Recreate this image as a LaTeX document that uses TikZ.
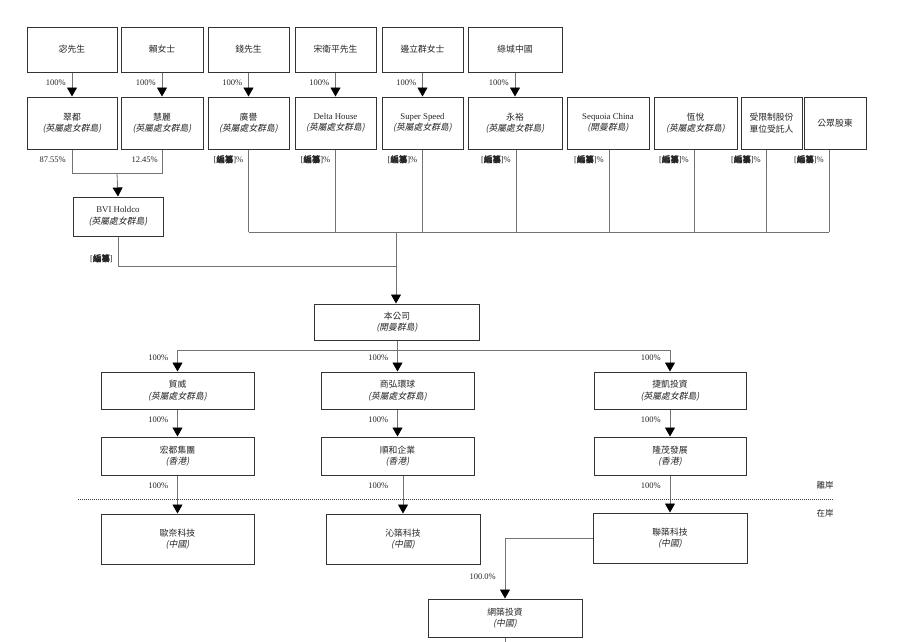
\documentclass[tikz,border=0pt]{standalone}
\usepackage{fontspec}
\setmainfont{Liberation Serif}
\newfontfamily\cjk{Noto Sans CJK TC}
\newfontfamily\cjkit[FakeSlant=0.2]{Noto Sans CJK TC}
\newfontfamily\cjkbf[FakeBold=2.5]{Noto Sans CJK TC}
\usetikzlibrary{arrows.meta, positioning, calc}
\newcommand{\juris}[1]{{\cjkit (#1)}}
\newcommand{\redacted}{[{\cjkbf 編纂}]}
\tikzset{
    entity/.style={draw=black!80, line width=1pt, fill=white, align=center, inner sep=1pt,
        text=black!85, font=\fontsize{8.8}{11.5}\selectfont},
    link/.style={draw=black!55, line width=0.8pt},
    own/.style={link, -{Triangle[width=10pt,length=9pt,black]}},
    pct/.style={anchor=east, inner sep=0pt, text=black!85, font=\fontsize{8.5}{10}\selectfont},
    shore/.style={draw=black!75, line width=0.9pt, dash pattern=on 1pt off 1pt}
}

\begin{document}
\begin{tikzpicture}[x=1pt, y=-1pt]
    \useasboundingbox (0,0) rectangle (911,641);

    % Shareholders
    \foreach \name/\cx/\w/\txt in {mi/72/90/宓先生, lai/162/82/賴女士, qian/248.5/81/錢先生,
        song/335.5/81/宋衛平先生, bian/422.5/81/邊立群女士, lvcheng/515/94/綠城中國}{
        \node[entity, minimum width=\w pt, minimum height=45pt] (\name) at (\cx,49.5) {\cjk\txt};
    }

    % Holding vehicles
    \node[entity, minimum width=90pt, minimum height=52pt] (cuidu) at (72,123) {{\cjk 翠都}\\\juris{英屬處女群島}};
    \node[entity, minimum width=82pt, minimum height=52pt] (huili) at (162,123) {{\cjk 慧麗}\\\juris{英屬處女群島}};
    \node[entity, minimum width=81pt, minimum height=52pt] (guangyu) at (248.5,123) {{\cjk 廣譽}\\\juris{英屬處女群島}};
    \node[entity, minimum width=81pt, minimum height=52pt] (delta) at (335.5,123) {Delta House\\\juris{英屬處女群島}};
    \node[entity, minimum width=81pt, minimum height=52pt] (super) at (422.5,123) {Super Speed\\\juris{英屬處女群島}};
    \node[entity, minimum width=94pt, minimum height=52pt] (yongyu) at (515,123) {{\cjk 永裕}\\\juris{英屬處女群島}};
    \node[entity, minimum width=82pt, minimum height=52pt] (sequoia) at (608,123) {Sequoia China\\\juris{開曼群島}};
    \node[entity, minimum width=83pt, minimum height=52pt] (hengyue) at (695.5,123) {{\cjk 恆悅}\\\juris{英屬處女群島}};
    \node[entity, minimum width=61pt, minimum height=52pt] (rsu) at (771.5,123) {\cjk 受限制股份\\\cjk 單位受託人};
    \node[entity, minimum width=62pt, minimum height=52pt] (public) at (835,123) {\cjk 公眾股東};

    \foreach \a/\b in {mi/cuidu, lai/huili, qian/guangyu, song/delta, bian/super, lvcheng/yongyu}{
        \draw[own] (\a) -- (\b);
        \path (\a.south) ++(-6,10) node[pct] (p\a) {100\%};
    }

    % BVI Holdco
    \node[entity, minimum width=90pt, minimum height=39pt] (bvi) at (118,216.5) {BVI Holdco\\\juris{英屬處女群島}};
    \coordinate (merge) at (117,173);
    \draw[link] (cuidu.south) |- (huili.south |- merge) -- (huili.south);
    \draw[own] (merge) -- (bvi.north);
    \path (cuidu.south) ++(-6,10) node[pct] (pcuidu) {87.55\%};
    \path (huili.south) ++(-4,10) node[pct] (phuili) {12.45\%};

    % Listing bus
    \coordinate (join) at (396,232);
    \coordinate (bvijoin) at (396,266);
    \foreach \n/\s in {guangyu/0, delta/0, super/0, yongyu/1, sequoia/1, hengyue/-1.5, rsu/-5.5, public/-6}{
        \coordinate (d\n) at ([xshift=\s]\n.south);
        \draw[link] (d\n) -- (d\n |- join);
        \path (d\n) ++(-5,10) node[pct] (r\n) {\redacted\%};
    }
    \draw[link] (dguangyu |- join) -- (dpublic |- join);
    \draw[link] (bvi.south) |- (bvijoin);
    \path (bvi.south) ++(-5,22) node[pct] (rbvi) {\redacted};

    % Company
    \node[entity, minimum width=165pt, minimum height=36pt] (company) at (397,322) {{\cjk 本公司}\\\juris{開曼群島}};
    \draw[own] (join) -- (join |- company.north);

    % Subsidiaries
    \node[entity, minimum width=153pt, minimum height=37pt] (maowei) at (177.5,390.5) {{\cjk 貿威}\\\juris{英屬處女群島}};
    \node[entity, minimum width=153pt, minimum height=37pt] (shanghong) at (397.5,390.5) {{\cjk 商弘環球}\\\juris{英屬處女群島}};
    \node[entity, minimum width=152pt, minimum height=37pt] (jiekai) at (670,390.5) {{\cjk 捷凱投資}\\\juris{英屬處女群島}};

    \node[entity, minimum width=153pt, minimum height=38pt] (hongdu) at (177.5,456) {{\cjk 宏都集團}\\\juris{香港}};
    \node[entity, minimum width=153pt, minimum height=38pt] (shunhe) at (397.5,456) {{\cjk 順和企業}\\\juris{香港}};
    \node[entity, minimum width=152pt, minimum height=38pt] (longmao) at (670,456) {{\cjk 隆茂發展}\\\juris{香港}};

    \node[entity, minimum width=153pt, minimum height=50pt] (ounai) at (177.5,539) {{\cjk 歐奈科技}\\\juris{中國}};
    \node[entity, minimum width=154pt, minimum height=50pt] (qinzhu) at (403,539) {{\cjk 沁築科技}\\\juris{中國}};
    \node[entity, minimum width=154pt, minimum height=50pt] (lianzhu) at (670,538) {{\cjk 聯築科技}\\\juris{中國}};

    \node[entity, minimum width=154pt, minimum height=38pt] (wangzhu) at (505,618) {{\cjk 網築投資}\\\juris{中國}};

    \coordinate (split) at (397,350);
    \draw[link] (company.south) -- (split);
    \draw[link] (maowei.north |- split) -- (jiekai.north |- split);
    \foreach \n in {maowei, shanghong, jiekai}{
        \draw[own] (\n.north |- split) -- (\n.north);
        \path (\n.north |- split) ++(-9,8) node[pct] (p\n) {100\%};
    }
    \foreach \a/\b in {maowei/hongdu, jiekai/longmao, hongdu/ounai, longmao/lianzhu}{
        \draw[own] (\a) -- (\b);
        \path (\a.south) ++(-9,10) node[pct] (p\b) {100\%};
    }
    \draw[own] (shanghong) -- (shunhe);
    \path (shanghong.south) ++(-9,10) node[pct] (pshunhe) {100\%};
    \draw[own] (qinzhu.north |- shunhe.south) -- (qinzhu.north);
    \path (shunhe.south) ++(-9,10) node[pct] (pqinzhu) {100\%};

    \draw[own] (lianzhu.west) -| (wangzhu.north);
    \path (wangzhu.north) ++(-9,-22) node[pct] (pwangzhu) {100.0\%};
    \draw[link] (wangzhu.south) -- ++(0,6);

    % Offshore / onshore
    \draw[shore] (78,499) -- (834,499);
    \node[pct, anchor=center] (offshore) at (825,485) {\cjk 離岸};
    \node[pct, anchor=center] (onshore) at (825,513) {\cjk 在岸};
\end{tikzpicture}
\end{document}
